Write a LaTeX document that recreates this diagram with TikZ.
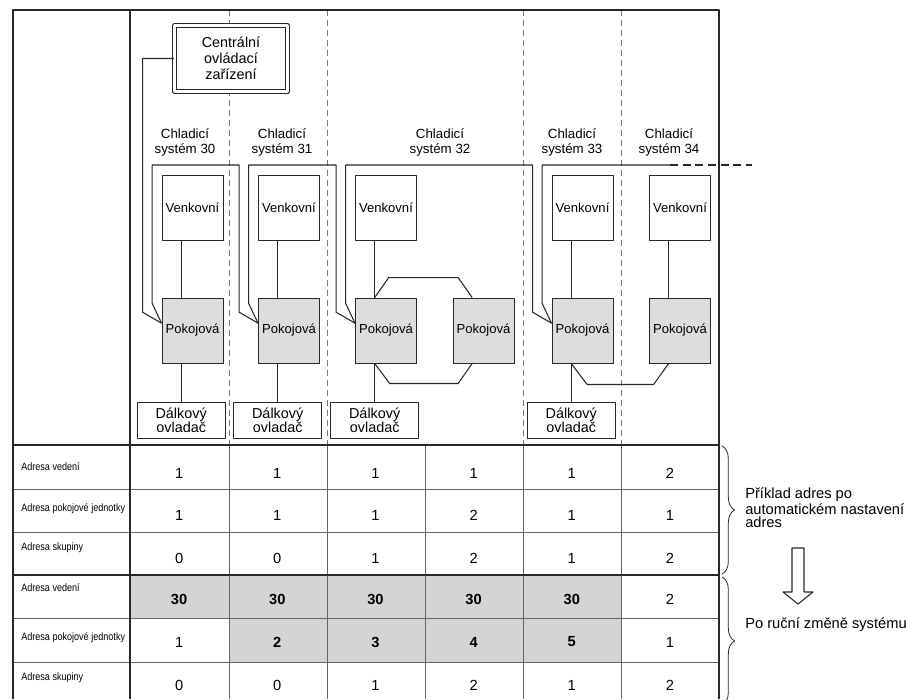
\documentclass[tikz,border=0pt]{standalone}
\usepackage{fontspec}
\setmainfont{Liberation Sans}
\newfontfamily\narrowfont[FakeStretch=0.85]{Liberation Sans}
\usetikzlibrary{calc,decorations.pathreplacing}

\begin{document}
\begin{tikzpicture}[x=0.75pt, y=-0.75pt, line join=round,
  frame/.style={draw=linegray, line width=0.9pt},
  gridline/.style={draw=gridgray, line width=0.6pt},
  wire/.style={draw=linegray, line width=0.8pt},
  unitbox/.style={draw=linegray, line width=0.7pt, minimum width=45.75pt, minimum height=48.75pt, inner sep=1pt, font=\fontsize{9.8}{11}\selectfont},
  outdoor/.style={unitbox, fill=white},
  indoor/.style={unitbox, fill=indoorgray},
  remote/.style={draw=linegray, line width=0.7pt, fill=white, minimum width=66pt, minimum height=27pt, inner sep=0pt, align=center, font=\fontsize{10.8}{10.5}\selectfont},
  central/.style={draw=linegray, double=white, double distance=2.4pt, line width=0.7pt, fill=white, minimum width=84.75pt, minimum height=49.5pt, align=center, font=\fontsize{10.8}{12}\selectfont},
  syslabel/.style={align=center, font=\fontsize{10}{11.25}\selectfont},
  rowlabel/.style={anchor=west, inner sep=0pt, font=\narrowfont\fontsize{8}{10}\selectfont},
  value/.style={font=\fontsize{11}{13}\selectfont},
  note/.style={anchor=west, align=left, inner sep=0pt, font=\fontsize{11}{10.3}\selectfont},
  brace/.style={draw=linegray, line width=0.6pt, decorate, decoration={brace, amplitude=9.5pt}}]
  \definecolor{linegray}{RGB}{40,40,40}
  \definecolor{gridgray}{RGB}{100,100,100}
  \definecolor{dashgray}{RGB}{120,120,120}
  \definecolor{indoorgray}{RGB}{221,221,221}
  \definecolor{cellgray}{RGB}{212,212,212}
  \useasboundingbox (0,0) rectangle (912,699);

  % table background and grid
  \fill[cellgray] (130,575) rectangle (621,618);
  \fill[cellgray] (229,618) rectangle (621,662);
  \foreach \x in {229,327,523,621}
    \draw[dashgray, line width=0.6pt, dash pattern=on 4.5pt off 3pt] (\x,10) -- (\x,445);
  \foreach \y in {489,532,618,662}
    \draw[gridline] (13,\y) -- (719,\y);
  \foreach \x in {229,327,425,523,621}
    \draw[gridline] (\x,445) -- (\x,699);
  \draw[frame] (13,445) -- (719,445);
  \draw[frame, line width=1.2pt] (13,575) -- (719,575);
  \draw[frame] (13,699) -- (13,10) -- (719,10) -- (719,699);
  \draw[frame] (130,10) -- (130,699);

  % units
  \node[central] (C) at (231,58.5) {Centrální\\ovládací\\zařízení};
  \node[syslabel] (S30) at (185,142.5) {Chladicí\\systém 30};
  \node[syslabel] (S31) at (282,142.5) {Chladicí\\systém 31};
  \node[syslabel] (S32) at (440,142.5) {Chladicí\\systém 32};
  \node[syslabel] (S33) at (572,142.5) {Chladicí\\systém 33};
  \node[syslabel] (S34) at (669,142.5) {Chladicí\\systém 34};

  \node[outdoor] (V30) at (192.5,207.5) {Venkovní};
  \node[outdoor] (V31) at (289,207.5) {Venkovní};
  \node[outdoor] (V32) at (386,207.5) {Venkovní};
  \node[outdoor] (V33) at (582.5,207.5) {Venkovní};
  \node[outdoor] (V34) at (680,207.5) {Venkovní};

  \node[indoor] (P30) at (192.5,330.5) {Pokojová};
  \node[indoor] (P31) at (289,330.5) {Pokojová};
  \node[indoor] (P32) at (386,330.5) {Pokojová};
  \node[indoor] (P32b) at (483.5,330.5) {Pokojová};
  \node[indoor] (P33) at (582.5,330.5) {Pokojová};
  \node[indoor] (P34) at (680,330.5) {Pokojová};

  \node[remote] (D30) at (181.2,420) {Dálkový\\ovladač};
  \node[remote] (D31) at (277.7,420) {Dálkový\\ovladač};
  \node[remote] (D32) at (374.7,420) {Dálkový\\ovladač};
  \node[remote] (D33) at (571.2,420) {Dálkový\\ovladač};

  % refrigerant wiring
  \foreach \s in {30,...,34}
    \draw[wire] ([xshift=-8.5pt]V\s.south) -- ([xshift=-8.5pt]P\s.north);
  \foreach \s in {30,...,33}
    \draw[wire] (D\s.north) -- (D\s.north |- P\s.south);
  \coordinate (p32t) at ([xshift=-8.5pt]P32.north);
  \coordinate (p32bt) at ([xshift=-8.5pt]P32b.north);
  \coordinate (p32s) at ([xshift=-8.5pt]P32.south);
  \coordinate (p32bs) at ([xshift=-8.5pt]P32b.south);
  \coordinate (p33s) at ([xshift=-8.5pt]P33.south);
  \coordinate (p34s) at ([xshift=-8.5pt]P34.south);
  \draw[wire] (p32t) -- ++(14,-20) -- ($(p32bt)+(-14,-20)$) -- (p32bt);
  \draw[wire] (p32s) -- ++(15,20) -- ($(p32bs)+(-14,20)$) -- (p32bs);
  \draw[wire] (p33s) -- ++(16,21) -- ($(p34s)+(-15,21)$) -- (p34s);

  % transmission line
  \coordinate (bus) at (0,165);
  \foreach \s in {30,...,33}
    \coordinate (e\s) at ([yshift=5.5pt]P\s.west);
  \draw[wire] (e30) -- ++(-19,-11) |- (C.west);
  \foreach \a/\b in {30/31,31/32,32/33} {
    \coordinate (o\b) at ($(e\b)+(-19,-11)$);
    \draw[wire] (e\a) -- ++(-9.5,-20) |- (o\b |- bus) -- (o\b) -- (e\b);
  }
  \coordinate (busend) at (670,165);
  \draw[wire] (e33) -- ++(-9.5,-20) |- (busend);
  \draw[wire, dash pattern=on 6pt off 3.5pt] (busend) -- ++(82,0);

  % address rows
  \foreach \ly/\vy/\lab/\vals [count=\r] in {
      467/473/{Adresa vedení}/{1,1,1,1,1,2},
      509/515/{Adresa pokojové jednotky}/{1,1,1,2,1,1},
      548/558/{Adresa skupiny}/{0,0,1,2,1,2},
      588/599/{Adresa vedení}/{\textbf{30},\textbf{30},\textbf{30},\textbf{30},\textbf{30},2},
      638/642/{Adresa pokojové jednotky}/{1,\textbf{2},\textbf{3},\textbf{4},\textbf{5},1},
      678/685/{Adresa skupiny}/{0,0,1,2,1,2}} {
    \node[rowlabel] (lab\r) at (21,\ly) {\lab};
    \foreach \v [count=\c] in \vals
      \node[value] (v\r-\c) at ({130+98.17*\c-49.08},\vy) {\v};
  }

  % notes on the right
  \draw[brace] (722,446) -- (722,574);
  \draw[brace] (722,577) -- (722,705);
  \node[note] (auto) at (745,508) {Příklad adres po\\automatickém nastavení\\adres};
  \node[note] (manual) at (745,625) {Po ruční změně systému};
  \draw[wire, fill=white] (792,548) -- (804,548) -- (804,592) -- (813,592)
    -- (798,604) -- (783,592) -- (792,592) -- cycle;
\end{tikzpicture}
\end{document}
